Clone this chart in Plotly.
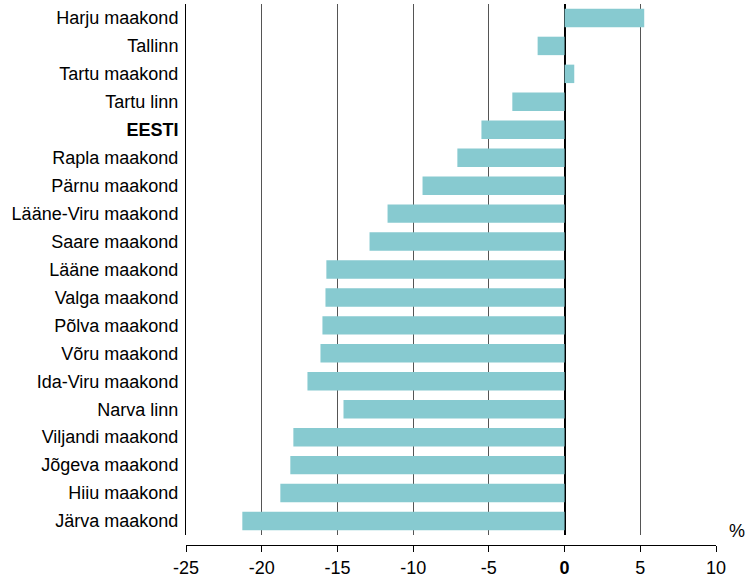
import plotly.graph_objects as go

categories = ["Harju maakond", "Tallinn", "Tartu maakond", "Tartu linn", "EESTI",
              "Rapla maakond", "Pärnu maakond", "Lääne-Viru maakond", "Saare maakond",
              "Lääne maakond", "Valga maakond", "Põlva maakond", "Võru maakond",
              "Ida-Viru maakond", "Narva linn", "Viljandi maakond", "Jõgeva maakond",
              "Hiiu maakond", "Järva maakond"]
values = [5.26, -1.78, 0.64, -3.45, -5.49,
          -7.08, -9.38, -11.69, -12.88,
          -15.73, -15.79, -15.99, -16.12,
          -16.98, -14.60, -17.91, -18.11,
          -18.77, -21.28]
x_ticks = [-25, -20, -15, -10, -5, 0, 5, 10]
x_ticktext = ["-25", "-20", "-15", "-10", "-5", "<b>0</b>", "5", "10"]
y_ticktext = ["<b>EESTI</b>" if c == "EESTI" else c for c in categories]

FS = 18

fig = go.Figure()
fig.add_trace(go.Bar(
    y=categories, x=values, orientation="h",
    marker=dict(color="#87CAD0", line=dict(width=0)),
    hoverinfo="x+y",
))

fig.update_layout(
    width=745, height=577,
    margin=dict(l=186, r=29, t=4, b=32, autoexpand=False),
    paper_bgcolor="white", plot_bgcolor="white",
    bargap=0.34,
    showlegend=False,
    font=dict(family="Liberation Sans, Arial, sans-serif", size=FS, color="black"),
    xaxis=dict(
        range=[-25, 10], tickvals=x_ticks, ticktext=x_ticktext,
        showgrid=True, gridcolor="#555555", gridwidth=1,
        zeroline=True, zerolinecolor="black", zerolinewidth=1.5,
        showline=True, linecolor="black", linewidth=1,
        ticks="outside", ticklen=6, tickcolor="black",
        anchor="free", position=0, automargin=False,
        tickfont=dict(size=FS, color="black"),
    ),
    yaxis=dict(
        domain=[0.0185, 1],
        categoryorder="array", categoryarray=categories,
        tickvals=categories, ticktext=y_ticktext,
        autorange="reversed", automargin=False,
        showline=True, linecolor="black", linewidth=1,
        showgrid=False, ticks="", ticklabelstandoff=3,
        tickfont=dict(size=FS, color="black"),
    ),
    annotations=[dict(
        text="%", xref="paper", yref="paper", x=1.0215, y=0.026,
        xanchor="left", yanchor="middle", showarrow=False,
        font=dict(size=FS, color="black"),
    )],
)

fig.write_html(
    "out.html",
    config={"displayModeBar": False},
    post_script="document.body.style.margin='0';document.body.style.padding='0';",
)
